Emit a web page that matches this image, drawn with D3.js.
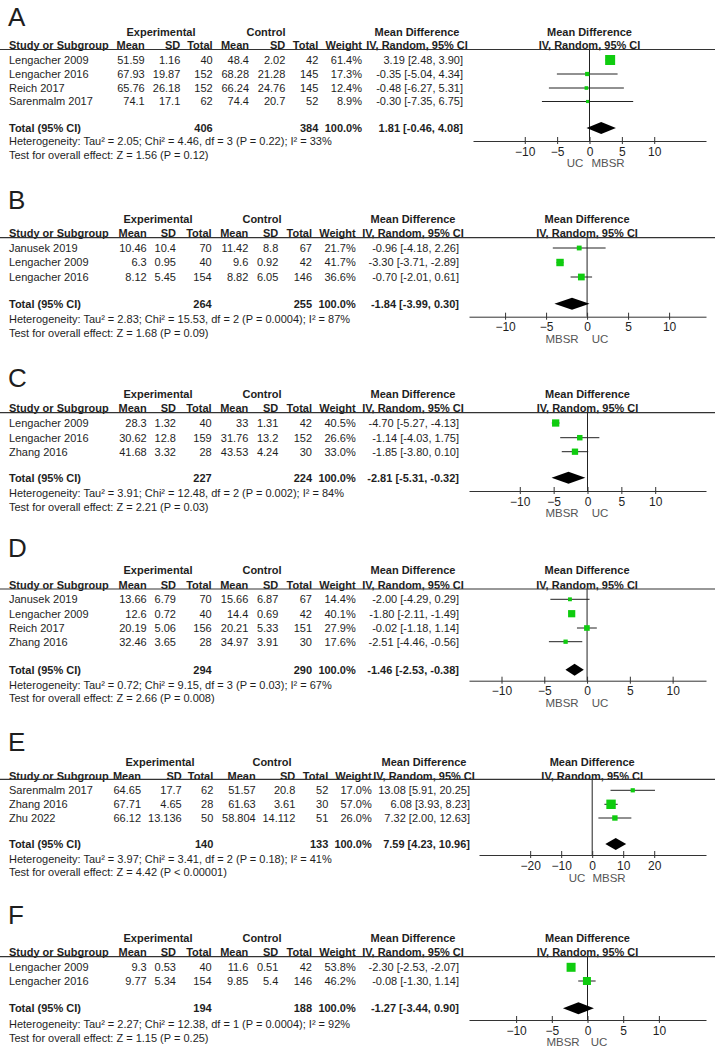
<!DOCTYPE html>
<html>
<head>
<meta charset="utf-8">
<script src="https://cdn.jsdelivr.net/npm/d3@7"></script>
<style>
  body { margin: 0; background: #fff; }
  svg { display: block; font-family: "Liberation Sans", Arial, sans-serif; }
  text { fill: #1e1e1e; }
</style>
</head>
<body>
<div class="canvas"></div>
<script>
// study rows: name, exp mean, exp sd, exp n, ctl mean, ctl sd, ctl n, weight, md, lo, hi
const rowsA = [
  ["Lengacher 2009", 51.59, 1.16, 40, 48.4, 2.02, 42, 61.4, 3.19, 2.48, 3.90],
  ["Lengacher 2016", 67.93, 19.87, 152, 68.28, 21.28, 145, 17.3, -0.35, -5.04, 4.34],
  ["Reich 2017", 65.76, 26.18, 152, 66.24, 24.76, 145, 12.4, -0.48, -6.27, 5.31],
  ["Sarenmalm 2017", 74.1, 17.1, 62, 74.4, 20.7, 52, 8.9, -0.30, -7.35, 6.75]
];
const rowsB = [
  ["Janusek 2019", 10.46, 10.4, 70, 11.42, 8.8, 67, 21.7, -0.96, -4.18, 2.26],
  ["Lengacher 2009", 6.3, 0.95, 40, 9.6, 0.92, 42, 41.7, -3.30, -3.71, -2.89],
  ["Lengacher 2016", 8.12, 5.45, 154, 8.82, 6.05, 146, 36.6, -0.70, -2.01, 0.61]
];
const rowsC = [
  ["Lengacher 2009", 28.3, 1.32, 40, 33, 1.31, 42, 40.5, -4.70, -5.27, -4.13],
  ["Lengacher 2016", 30.62, 12.8, 159, 31.76, 13.2, 152, 26.6, -1.14, -4.03, 1.75],
  ["Zhang 2016", 41.68, 3.32, 28, 43.53, 4.24, 30, 33.0, -1.85, -3.80, 0.10]
];
const rowsD = [
  ["Janusek 2019", 13.66, 6.79, 70, 15.66, 6.87, 67, 14.4, -2.00, -4.29, 0.29],
  ["Lengacher 2009", 12.6, 0.72, 40, 14.4, 0.69, 42, 40.1, -1.80, -2.11, -1.49],
  ["Reich 2017", 20.19, 5.06, 156, 20.21, 5.33, 151, 27.9, -0.02, -1.18, 1.14],
  ["Zhang 2016", 32.46, 3.65, 28, 34.97, 3.91, 30, 17.6, -2.51, -4.46, -0.56]
];
const rowsE = [
  ["Sarenmalm 2017", 64.65, 17.7, 62, 51.57, 20.8, 52, 17.0, 13.08, 5.91, 20.25],
  ["Zhang 2016", 67.71, 4.65, 28, 61.63, 3.61, 30, 57.0, 6.08, 3.93, 8.23],
  ["Zhu 2022", 66.12, 13.136, 50, 58.804, 14.112, 51, 26.0, 7.32, 2.00, 12.63]
];
const rowsF = [
  ["Lengacher 2009", 9.3, 0.53, 40, 11.6, 0.51, 42, 53.8, -2.30, -2.53, -2.07],
  ["Lengacher 2016", 9.77, 5.34, 154, 9.85, 5.4, 146, 46.2, -0.08, -1.30, 1.14]
];

// totals: exp n, ctl n, md, lo, hi
const totalsA = [406, 384, 1.81, -0.46, 4.08];
const totalsB = [264, 255, -1.84, -3.99, 0.30];
const totalsC = [227, 224, -2.81, -5.31, -0.32];
const totalsD = [294, 290, -1.46, -2.53, -0.38];
const totalsE = [140, 133, 7.59, 4.23, 10.96];
const totalsF = [194, 188, -1.27, -3.44, 0.90];

const heterogeneity = [
  "Heterogeneity: Tau\u00b2 = 2.05; Chi\u00b2 = 4.46, df = 3 (P = 0.22); I\u00b2 = 33%",
  "Heterogeneity: Tau\u00b2 = 2.83; Chi\u00b2 = 15.53, df = 2 (P = 0.0004); I\u00b2 = 87%",
  "Heterogeneity: Tau\u00b2 = 3.91; Chi\u00b2 = 12.48, df = 2 (P = 0.002); I\u00b2 = 84%",
  "Heterogeneity: Tau\u00b2 = 0.72; Chi\u00b2 = 9.15, df = 3 (P = 0.03); I\u00b2 = 67%",
  "Heterogeneity: Tau\u00b2 = 3.97; Chi\u00b2 = 3.41, df = 2 (P = 0.18); I\u00b2 = 41%",
  "Heterogeneity: Tau\u00b2 = 2.27; Chi\u00b2 = 12.38, df = 1 (P = 0.0004); I\u00b2 = 92%"
];
const overallEffect = [
  "Test for overall effect: Z = 1.56 (P = 0.12)",
  "Test for overall effect: Z = 1.68 (P = 0.09)",
  "Test for overall effect: Z = 2.21 (P = 0.03)",
  "Test for overall effect: Z = 2.66 (P = 0.008)",
  "Test for overall effect: Z = 4.42 (P < 0.00001)",
  "Test for overall effect: Z = 1.15 (P = 0.25)"
];
const panelLetters = ["A", "B", "C", "D", "E", "F"];
const tickValues = [
  [-10, -5, 0, 5, 10],
  [-10, -5, 0, 5, 10],
  [-10, -5, 0, 5, 10],
  [-10, -5, 0, 5, 10],
  [-20, -10, 0, 10, 20],
  [-10, -5, 0, 5, 10]
];
const favourLabels = [
  ["UC", "MBSR"], ["MBSR", "UC"], ["MBSR", "UC"],
  ["MBSR", "UC"], ["UC", "MBSR"], ["MBSR", "UC"]
];
const allRows = [rowsA, rowsB, rowsC, rowsD, rowsE, rowsF];
const allTotals = [totalsA, totalsB, totalsC, totalsD, totalsE, totalsF];

// layout (pixel positions per panel)
const colsDefault = { study: 9, em: 146.7, esd: 176, en: 211.7, cm: 248.3, csd: 278.3, cn: 312, w: 355.7, md: 459, expC: 158, ctlC: 262, mdC: 413 };
const colsA = { study: 9, em: 144.7, esd: 180.3, en: 212.7, cm: 249, csd: 285.3, cn: 318.3, w: 362, md: 463, expC: 161, ctlC: 266, mdC: 417 };
const colsE = { study: 9, em: 141, esd: 181.7, en: 213.3, cm: 255.7, csd: 295.3, cn: 328.3, w: 371.7, md: 470, expC: 160, ctlC: 272, mdC: 424 };

const layout = [
  { cols: colsA, letter: 17, exp: 32, hdr: 45.5, line: 49.5, rows: [60, 74, 88, 101.5], total: 128, het: 141, test: 155, axis: 141, xr: [473, 706], dom: [-18, 18], fav: 163, favX: [575, 608] },
  { cols: colsDefault, letter: 200, exp: 219, hdr: 233.5, line: 237.7, rows: [248, 262.5, 277], total: 303.7, het: 319.3, test: 333, axis: 316.7, xr: [469, 706], dom: [-14.4, 14.5], fav: 339, favX: [562, 600] },
  { cols: colsDefault, letter: 378, exp: 393.7, hdr: 408.3, line: 412.7, rows: [423, 437.7, 451.7], total: 477.7, het: 493.3, test: 507.3, axis: 491, xr: [469, 706], dom: [-17.5, 17.5], fav: 513, favX: [562, 600] },
  { cols: colsDefault, letter: 548.3, exp: 570, hdr: 584.7, line: 589, rows: [599.3, 613.7, 628, 641.7], total: 669.7, het: 685.3, test: 698, axis: 680.7, xr: [469, 706], dom: [-13.8, 13.9], fav: 703, favX: [562, 600] },
  { cols: colsE, letter: 741.7, exp: 762.3, hdr: 776.3, line: 779.3, rows: [790.3, 804.3, 818], total: 844, het: 858.7, test: 872.3, axis: 855, xr: [479, 706], dom: [-36.5, 36.7], fav: 877.5, favX: [577, 609] },
  { cols: colsDefault, letter: 915, exp: 938.3, hdr: 952, line: 956.7, rows: [967.3, 981], total: 1008.3, het: 1024.3, test: 1038, axis: 1020, xr: [469, 706], dom: [-16.6, 16.6], fav: 1041.5, favX: [563, 599] }
];

const W = 715, H = 1049;
const green = "#0fcc0f";
const FS = 11;

const svg = d3.select(".canvas").append("svg")
  .attr("width", W).attr("height", H);

function txt(g, x, y, s, anchor, bold, size) {
  return g.append("text")
    .attr("x", x).attr("y", y).attr("dy", "0.35em")
    .attr("text-anchor", anchor || "start")
    .attr("font-size", (size || FS) + "px")
    .attr("font-weight", bold ? "bold" : "normal")
    .text(s);
}

layout.forEach((L, i) => {
  const g = svg.append("g");
  const c = L.cols;
  const rows = allRows[i];
  const tot = allTotals[i];
  const x = d3.scaleLinear().domain(L.dom).range(L.xr);
  const zero = x(0);

  txt(g, 8, L.letter, panelLetters[i], "start", false, 26);

  // headers
  txt(g, c.expC, L.exp, "Experimental", "middle", true);
  txt(g, c.ctlC, L.exp, "Control", "middle", true);
  txt(g, c.mdC, L.exp, "Mean Difference", "middle", true);
  txt(g, zero, L.exp, "Mean Difference", "middle", true);
  txt(g, c.study, L.hdr, "Study or Subgroup", "start", true);
  [["Mean", c.em], ["SD", c.esd], ["Total", c.en], ["Mean", c.cm], ["SD", c.csd], ["Total", c.cn], ["Weight", c.w]]
    .forEach(([s, xx]) => txt(g, xx, L.hdr, s, "end", true));
  txt(g, c.mdC, L.hdr, "IV, Random, 95% CI", "middle", true);
  txt(g, zero, L.hdr, "IV, Random, 95% CI", "middle", true);

  g.append("line")
    .attr("x1", 0).attr("x2", W)
    .attr("y1", L.line).attr("y2", L.line)
    .attr("stroke", "#333").attr("stroke-width", 1.2);

  // zero line
  g.append("line")
    .attr("x1", zero).attr("x2", zero)
    .attr("y1", L.line).attr("y2", L.axis)
    .attr("stroke", "#222").attr("stroke-width", 1);

  // study rows
  rows.forEach((r, j) => {
    const y = L.rows[j];
    txt(g, c.study, y, r[0]);
    txt(g, c.em, y, String(r[1]), "end");
    txt(g, c.esd, y, String(r[2]), "end");
    txt(g, c.en, y, String(r[3]), "end");
    txt(g, c.cm, y, String(r[4]), "end");
    txt(g, c.csd, y, String(r[5]), "end");
    txt(g, c.cn, y, String(r[6]), "end");
    txt(g, c.w, y, r[7].toFixed(1) + "%", "end");
    txt(g, c.md, y, r[8].toFixed(2) + " [" + r[9].toFixed(2) + ", " + r[10].toFixed(2) + "]", "end");

    g.append("line")
      .attr("x1", x(r[9])).attr("x2", x(r[10]))
      .attr("y1", y).attr("y2", y)
      .attr("stroke", "#222").attr("stroke-width", 1);
    const s = 2 + 0.13 * r[7];
    g.append("rect")
      .attr("x", x(r[8]) - s / 2).attr("y", y - s / 2)
      .attr("width", s).attr("height", s)
      .attr("fill", green);
  });

  // total row
  txt(g, c.study, L.total, "Total (95% CI)", "start", true);
  txt(g, c.en, L.total, String(tot[0]), "end", true);
  txt(g, c.cn, L.total, String(tot[1]), "end", true);
  txt(g, c.w, L.total, "100.0%", "end", true);
  txt(g, c.md, L.total, tot[2].toFixed(2) + " [" + tot[3].toFixed(2) + ", " + tot[4].toFixed(2) + "]", "end", true);

  const dy = 6;
  g.append("path")
    .attr("d", `M${x(tot[3])},${L.total} L${x(tot[2])},${L.total - dy} L${x(tot[4])},${L.total} L${x(tot[2])},${L.total + dy} Z`)
    .attr("fill", "#000");

  txt(g, c.study, L.het, heterogeneity[i]);
  txt(g, c.study, L.test, overallEffect[i]);

  // axis
  const ax = g.append("g")
    .attr("transform", `translate(0,${L.axis})`)
    .call(d3.axisBottom(x).tickValues(tickValues[i]).tickSize(3).tickSizeOuter(0));
  ax.select(".domain").attr("stroke", "#333");
  ax.selectAll(".tick line").attr("y1", -4).attr("stroke", "#333");
  ax.selectAll(".tick text")
    .attr("font-size", "12px")
    .attr("font-family", "Liberation Sans, Arial, sans-serif")
    .attr("fill", "#1e1e1e");

  txt(g, L.favX[0], L.fav, favourLabels[i][0], "middle", false, 11.5).style("fill", "#555");
  txt(g, L.favX[1], L.fav, favourLabels[i][1], "middle", false, 11.5).style("fill", "#555");
});
</script>
</body>
</html>
